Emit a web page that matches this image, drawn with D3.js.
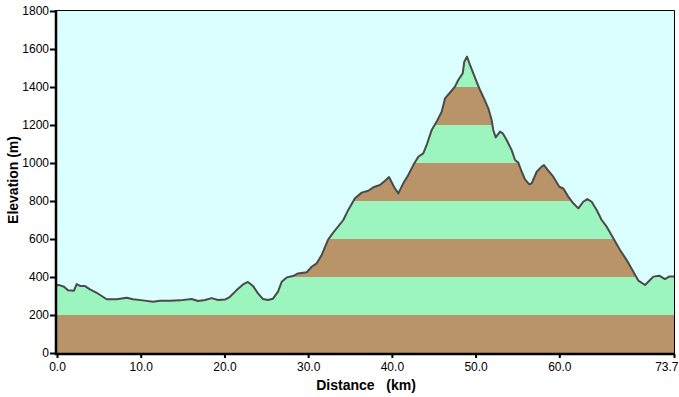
<!DOCTYPE html>
<html>
<head>
<meta charset="utf-8">
<script src="https://cdn.jsdelivr.net/npm/d3@7/dist/d3.min.js"></script>
<style>
  body { margin: 0; background: #fff; }
  svg { display: block; font-family: "Liberation Sans", Arial, sans-serif; }
</style>
</head>
<body>
<div id="chart"></div>
<script>
// profile: distance (km) and elevation (m)
var distKm = [0.00, 0.36, 0.84, 1.31, 2.03, 2.35, 2.75, 3.34, 3.94, 4.74, 5.94, 7.13, 8.33, 9.08,
    10.27, 11.47, 12.30, 13.50, 14.69, 16.09, 16.84, 17.68, 18.48, 19.23, 20.07, 20.66, 21.46,
    22.22, 22.81, 23.41, 24.01, 24.61, 25.20, 25.80, 26.40, 26.84, 27.44, 28.19, 28.79, 29.83,
    30.42, 31.02, 31.62, 32.37, 32.97, 34.20, 34.79, 35.59, 36.40, 37.18, 37.78, 38.58, 39.18,
    39.66, 40.25, 40.77, 41.36, 41.96, 42.56, 43.16, 43.75, 44.16, 44.76, 45.35, 45.95, 46.35,
    47.03, 47.54, 47.93, 48.46, 48.65, 48.97, 49.33, 49.73, 50.20, 50.53, 51.00, 51.52, 51.92,
    52.11, 52.40, 52.92, 53.24, 53.71, 54.31, 54.71, 55.10, 55.51, 55.90, 56.41, 56.70, 57.30,
    57.89, 58.17, 58.68, 59.28, 60.00, 60.48, 61.07, 61.67, 62.27, 62.86, 63.34, 63.87, 64.46,
    65.06, 65.66, 66.45, 67.25, 68.05, 68.84, 69.44, 70.24, 70.63, 71.23, 71.94, 72.62, 73.11, 73.70];
var elevM = [358, 356, 349, 330, 328, 363, 353, 352, 335, 317, 283, 283, 291, 283,
    277, 270, 275, 275, 277, 284, 274, 279, 289, 279, 281, 296, 331,
    361, 374, 353, 314, 284, 279, 286, 323, 375, 398, 405, 419, 425,
    454, 472, 516, 595, 632, 700, 753, 814, 844, 854, 872, 884, 907,
    926, 875, 840, 893, 937, 989, 1033, 1051, 1095, 1174, 1218, 1270, 1340,
    1375, 1402, 1437, 1472, 1533, 1560, 1516, 1472, 1419, 1384, 1340, 1288, 1226,
    1174, 1135, 1165, 1156, 1121, 1068, 1016, 1002, 954, 914, 888, 893, 954,
    981, 989, 960, 928, 875, 866, 823, 788, 761, 796, 810, 796, 753,
    700, 665, 604, 542, 489, 428, 381, 358, 375, 402, 407, 389, 402, 402];

var xTicks = [0, 10, 20, 30, 40, 50, 60, 73.7];
var yTicks = [0, 200, 400, 600, 800, 1000, 1200, 1400, 1600, 1800];
var bandEdges = [0, 200, 400, 600, 800, 1000, 1200, 1400, 1600, 1800];

var width = 679, height = 397;
var margin = { top: 11, right: 5, bottom: 44, left: 57 };

var svg = d3.select("#chart").append("svg")
    .attr("width", width)
    .attr("height", height);

var x = d3.scaleLinear().domain([0, 73.7]).range([margin.left, width - margin.right]);
var y = d3.scaleLinear().domain([0, 1800]).range([height - margin.bottom, margin.top]);

var data = distKm.map(function (d, i) { return { km: d, m: elevM[i] }; });

// plot background
svg.append("rect")
    .attr("x", x(0)).attr("y", y(1800) - 1)
    .attr("width", x(73.7) - x(0)).attr("height", y(0) - y(1800) + 1)
    .attr("fill", "#dbfefe");

// clip the coloured bands to the profile
var area = d3.area()
    .x(function (d) { return x(d.km); })
    .y0(y(0))
    .y1(function (d) { return y(d.m); });

svg.append("clipPath").attr("id", "profile")
    .append("path").attr("d", area(data));

svg.append("g").attr("clip-path", "url(#profile)")
    .selectAll("rect")
    .data(bandEdges.slice(0, -1))
    .enter()
    .append("rect")
        .attr("x", x(0))
        .attr("width", x(73.7) - x(0))
        .attr("y", function (d) { return y(d + 200); })
        .attr("height", function (d) { return y(d) - y(d + 200); })
        .attr("fill", function (d, i) { return i % 2 == 0 ? "#b99469" : "#9cf4bf"; });

var line = d3.line()
    .x(function (d) { return x(d.km); })
    .y(function (d) { return y(d.m); });

svg.append("path")
    .attr("d", line(data))
    .attr("fill", "none")
    .attr("stroke", "#4a4a4a")
    .attr("stroke-width", 2)
    .attr("stroke-linejoin", "round");

// frame: thin on top and right
svg.append("path")
    .attr("d", "M" + x(0) + "," + (y(1800) - 0.5) + "H" + (x(73.7) + 0.5) + "V" + y(0))
    .attr("fill", "none")
    .attr("stroke", "#000")
    .attr("stroke-width", 1);

// axes
var xAxis = d3.axisBottom(x)
    .tickValues(xTicks)
    .tickSize(4)
    .tickFormat(d3.format(".1f"));

var yAxis = d3.axisLeft(y)
    .tickValues(yTicks)
    .tickSize(6)
    .tickFormat(d3.format("d"));

var gx = svg.append("g")
    .attr("transform", "translate(0," + (y(0) + 1) + ")")
    .call(xAxis);

var gy = svg.append("g")
    .attr("transform", "translate(" + (x(0) - 1) + ",0)")
    .call(yAxis);

[gx, gy].forEach(function (g) {
    g.select(".domain").attr("stroke", "#000").attr("stroke-width", 2.5);
    g.selectAll(".tick line").attr("stroke", "#000").attr("stroke-width", 2);
    g.selectAll(".tick text")
        .attr("fill", "#000")
        .attr("font-size", 12)
        .attr("font-family", "Liberation Sans, Arial, sans-serif");
});
gx.select(".domain").attr("d", "M" + (x(0) - 2) + ",0H" + (x(73.7) + 1));
gy.select(".domain").attr("d", "M0," + (y(1800) - 1) + "V" + (y(0) + 2));
gx.selectAll(".tick text").attr("y", 6).attr("dy", "0.9em");
gy.selectAll(".tick text").attr("x", -7);

// last distance label sits flush against the right edge
gx.selectAll(".tick text")
    .filter(function (d) { return d == 73.7; })
    .attr("text-anchor", "end")
    .attr("x", width - 1 - x(73.7));

// axis titles
svg.append("text")
    .attr("x", 366)
    .attr("y", 390)
    .attr("text-anchor", "middle")
    .attr("font-size", 14)
    .attr("font-weight", "bold")
    .style("white-space", "pre")
    .text("Distance   (km)");

svg.append("text")
    .attr("transform", "translate(18,180) rotate(-90)")
    .attr("text-anchor", "middle")
    .attr("font-size", 14)
    .attr("font-weight", "bold")
    .text("Elevation (m)");
</script>
</body>
</html>
